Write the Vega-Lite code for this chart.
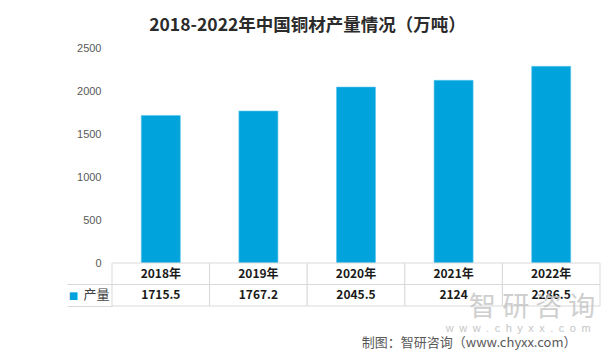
{
  "$schema": "https://vega.github.io/schema/vega-lite/v6.json",
  "padding": {"left": 66, "top": 16, "right": 14, "bottom": 3},
  "bounds": "flush",
  "spacing": 0,
  "background": "white",
  "title": {
    "text": "2018-2022年中国铜材产量情况（万吨）",
    "font": "Noto Sans CJK SC",
    "fontSize": 17.5,
    "fontWeight": "bold",
    "color": "#2b2b2b",
    "anchor": "middle",
    "dx": -26,
    "offset": 8
  },
  "data": {
    "values": [
      {"year": "2018年", "value": 1715.5},
      {"year": "2019年", "value": 1767.2},
      {"year": "2020年", "value": 2045.5},
      {"year": "2021年", "value": 2124},
      {"year": "2022年", "value": 2286.5}
    ]
  },
  "resolve": {"scale": {"x": "independent", "y": "independent"}},
  "vconcat": [
    {
      "width": 488,
      "height": 215,
      "mark": {"type": "bar", "color": "#00a3dc", "stroke": "#5cc6ee", "strokeWidth": 0.6},
      "encoding": {
        "x": {
          "field": "year",
          "type": "nominal",
          "sort": null,
          "axis": null,
          "scale": {"paddingInner": 0.6, "paddingOuter": 0.3}
        },
        "y": {
          "field": "value",
          "type": "quantitative",
          "scale": {"domain": [0, 2500], "nice": false},
          "axis": {
            "values": [0, 500, 1000, 1500, 2000, 2500],
            "format": "d",
            "grid": false,
            "domain": false,
            "ticks": false,
            "labelPadding": 11,
            "labelFont": "Liberation Sans",
            "labelFontSize": 11,
            "labelColor": "#595959",
            "title": null
          }
        }
      }
    },
    {
      "width": 488,
      "height": 43,
      "title": {
        "text": "制图：智研咨询（www.chyxx.com）",
        "orient": "bottom",
        "anchor": "end",
        "offset": 3,
        "dx": -24,
        "font": "Noto Sans CJK SC",
        "fontSize": 13,
        "fontWeight": "normal",
        "color": "#595959"
      },
      "encoding": {
        "x": {
          "field": "year",
          "type": "nominal",
          "sort": null,
          "axis": null,
          "scale": {"paddingInner": 0, "paddingOuter": 0}
        }
      },
      "layer": [
        {
          "mark": {"type": "rect", "fill": "white", "stroke": "#d9d9d9", "strokeWidth": 1},
          "encoding": {
            "y": {
              "datum": "h",
              "type": "nominal",
              "scale": {"domain": ["h", "v"], "paddingInner": 0, "paddingOuter": 0},
              "axis": {
                "orient": "left",
                "bandPosition": 1,
                "domain": false,
                "ticks": true,
                "tickSize": 45,
                "tickColor": "#d9d9d9",
                "labelExpr": "datum.value == 'v' ? '产量' : ''",
                "labelPadding": -42,
                "labelFont": "Noto Sans CJK SC",
                "labelFontSize": 13,
                "labelColor": "#404040",
                "title": "■",
                "titleColor": "#00a3dc",
                "titleAngle": 0,
                "titleFontSize": 10,
                "titleX": -39,
                "titleY": 32,
                "titleAlign": "center",
                "titleBaseline": "middle",
                "titleFont": "DejaVu Sans"
              }
            }
          }
        },
        {
          "mark": {"type": "rect", "fill": "white", "stroke": "#d9d9d9", "strokeWidth": 1},
          "encoding": {"y": {"datum": "v", "type": "nominal"}}
        },
        {
          "mark": {"type": "text", "font": "Noto Sans CJK SC", "fontSize": 12, "fontWeight": "bold", "color": "#1a1a1a"},
          "encoding": {"y": {"datum": "h", "type": "nominal"}, "text": {"field": "year"}}
        },
        {
          "mark": {"type": "text", "font": "Noto Sans CJK SC", "fontSize": 12, "fontWeight": "bold", "color": "#1a1a1a"},
          "encoding": {"y": {"datum": "v", "type": "nominal"}, "text": {"field": "value", "format": "~f"}}
        },
        {
          "data": {"values": [{"brand": "智 研 咨 询", "site": "w\u2002w\u2002w\u2002.\u2002c\u2002h\u2002y\u2002x\u2002x\u2002.\u2002c\u2002o\u2002m", "col": "2022年"}]},
          "mark": {"type": "text", "font": "Noto Sans CJK SC", "fontSize": 27, "color": "#c4c4c4", "opacity": 0.8, "dx": -19, "dy": 13},
          "encoding": {"x": {"field": "col", "type": "nominal"}, "y": {"datum": "v", "type": "nominal"}, "text": {"field": "brand"}}
        },
        {
          "data": {"values": [{"brand": "智 研 咨 询", "site": "w\u2002w\u2002w\u2002.\u2002c\u2002h\u2002y\u2002x\u2002x\u2002.\u2002c\u2002o\u2002m", "col": "2022年"}]},
          "mark": {"type": "text", "font": "Liberation Sans", "fontSize": 11, "color": "#bcbcbc", "opacity": 0.85, "dx": -33, "dy": 34},
          "encoding": {"x": {"field": "col", "type": "nominal"}, "y": {"datum": "v", "type": "nominal"}, "text": {"field": "site"}}
        }
      ]
    }
  ],
  "config": {"view": {"stroke": null}}
}
